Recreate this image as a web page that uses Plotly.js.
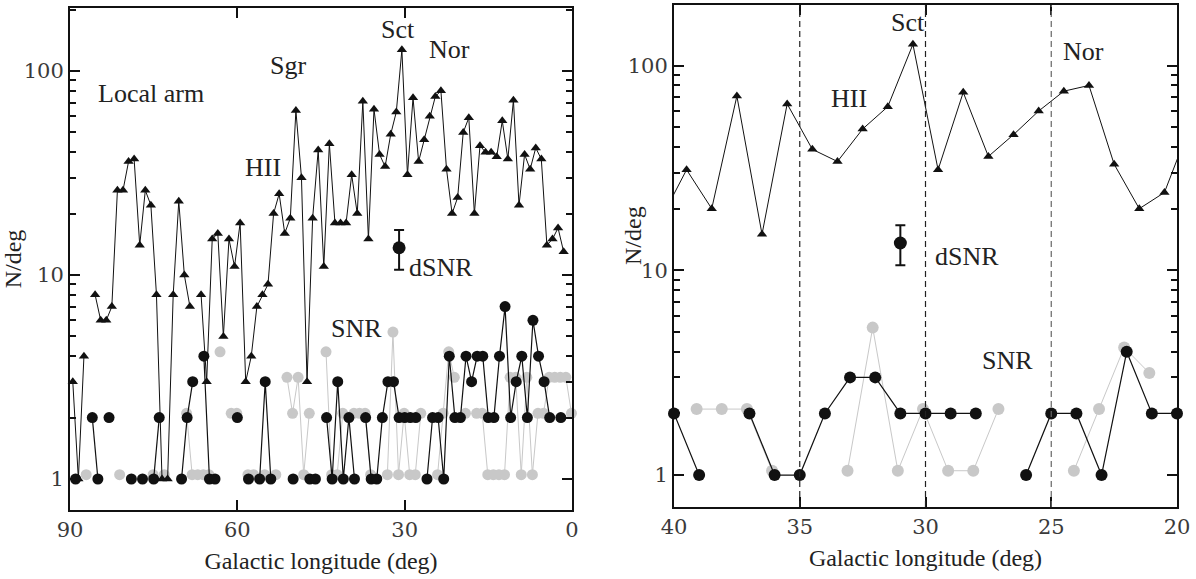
<!DOCTYPE html>
<html>
<head>
<meta charset="utf-8">
<script src="https://cdn.plot.ly/plotly-3.0.1.min.js"></script>
<style>
html, body { margin: 0; padding: 0; background: #fff; }
#chart { width: 1196px; height: 579px; }
</style>
</head>
<body>
<div id="chart"></div>
<script>
// Galactic longitude bins (deg)
const lonHII = [89.5,88.5,87.5,86.5,85.5,84.5,83.5,82.5,81.5,80.5,
  79.5,78.5,77.5,76.5,75.5,74.5,73.5,72.5,71.5,70.5,
  69.5,68.5,67.5,66.5,65.5,64.5,63.5,62.5,61.5,60.5,
  59.5,58.5,57.5,56.5,55.5,54.5,53.5,52.5,51.5,50.5,
  49.5,48.5,47.5,46.5,45.5,44.5,43.5,42.5,41.5,40.5,
  39.5,38.5,37.5,36.5,35.5,34.5,33.5,32.5,31.5,30.5,
  29.5,28.5,27.5,26.5,25.5,24.5,23.5,22.5,21.5,20.5,
  19.5,18.5,17.5,16.5,15.5,14.5,13.5,12.5,11.5,10.5,
  9.5,8.5,7.5,6.5,5.5,4.5,3.5,2.5,1.5,0.5];
// HII regions per degree (triangles)
const hiiCount = [3,1,4,null,8,6,6,7,26,26,
  36,37,14,26,22,8,1,1,8,23,
  10,7,null,8,3,15,16,5,15,11,
  18,3,4,7,8,9,20,25,16,19,
  64,30,3,19,41,11,44,18,18,18,
  31,20,71,15,65,39,34,49,63,127,
  31,74,36,46,60,75,80,33,20,24,
  50,59,20,43,40,40,38,57,37,72,
  22,39,33,42,37,14,15,17,13,null];

const lonSNR = [90,89,88,87,86,85,84,83,82,81,
  80,79,78,77,76,75,74,73,72,71,
  70,69,68,67,66,65,64,63,62,61,
  60,59,58,57,56,55,54,53,52,51,
  50,49,48,47,46,45,44,43,42,41,
  40,39,38,37,36,35,34,33,32,31,
  30,29,28,27,26,25,24,23,22,21,
  20,19,18,17,16,15,14,13,12,11,
  10,9,8,7,6,5,4,3,2,1,0];
// SNR per degree (black circles)
const snrBlack = [null,1,null,null,2,1,null,2,null,null,
  null,1,null,1,null,1,2,null,null,null,
  1,2,3,null,4,1,1,null,null,null,
  2,null,1,null,1,3,1,null,null,null,
  1,null,null,1,1,null,2,1,3,1,
  2,1,null,2,1,1,2,3,3,2,
  2,2,2,null,1,2,2,1,4,2,
  2,4,3,4,4,2,2,4,7,2,
  3,4,2,6,4,3,2,null,2,null,null];
// SNR per degree, second catalogue (grey circles)
const snrGrey = [null,null,null,1.05,null,null,null,null,null,1.05,
  null,null,null,null,null,1.05,null,1.05,null,null,
  null,2.1,1.05,1.05,1.05,1.05,null,4.2,null,2.1,
  2.1,null,1.05,1.05,null,1.05,null,1.05,null,3.15,
  2.1,3.15,1.05,2.1,null,null,4.2,1.05,1.05,2.1,
  null,2.1,2.1,2.1,1.05,null,null,1.05,5.25,1.05,
  2.1,1.05,1.05,2.1,null,null,1.05,2.1,4.2,3.15,
  null,2.1,null,2.1,2.1,1.05,1.05,1.05,1.05,3.15,
  3.15,1.05,3.15,1.05,2.1,2.1,3.15,3.15,3.15,3.15,2.1];
// representative dSNR point with error bar
const dsnrLon = [31];
const dsnrVal = [13.6];
const dsnrErr = [3];

const greyShift = 0.1; // small display shift of grey markers
const lonGrey = lonSNR.map(l => l + greyShift);

const FONT = 'Liberation Serif';
const NUMFONT = 'DejaVu Serif';

function panelTraces(xa, ya, triSize, dotSize) {
  return [
    {x: lonGrey, y: snrGrey, xaxis: xa, yaxis: ya, type: 'scatter', mode: 'lines+markers',
     line: {color: '#c8c8c8', width: 1}, marker: {color: '#c8c8c8', size: dotSize},
     cliponaxis: false, hoverinfo: 'skip'},
    {x: lonSNR, y: snrBlack, xaxis: xa, yaxis: ya, type: 'scatter', mode: 'lines+markers',
     line: {color: '#111', width: 1.2}, marker: {color: '#111', size: dotSize},
     cliponaxis: false, hoverinfo: 'skip'},
    {x: lonHII, y: hiiCount, xaxis: xa, yaxis: ya, type: 'scatter', mode: 'lines+markers',
     line: {color: '#111', width: 1}, marker: {color: '#111', size: triSize, symbol: 'triangle-up'},
     cliponaxis: false, hoverinfo: 'skip'},
    {x: dsnrLon, y: dsnrVal, xaxis: xa, yaxis: ya, type: 'scatter', mode: 'markers',
     marker: {color: '#111', size: 13},
     error_y: {type: 'data', array: dsnrErr, color: '#111', thickness: 2, width: 5},
     cliponaxis: false, hoverinfo: 'skip'}
  ];
}

const data = panelTraces('x', 'y', 9, 11).concat(panelTraces('x2', 'y2', 9, 12));

const W = 1196, H = 579;
function px(x) { return x / W; }
function py(y) { return 1 - y / H; }

const tickFont = {family: NUMFONT, size: 21, color: '#3a3a3a'};
const titleFont = {family: FONT, size: 24, color: '#222'};

function xAxis(domain, range, tickvals, anchor) {
  return {
    domain: domain, range: range, anchor: anchor,
    tickmode: 'array', tickvals: tickvals, ticktext: tickvals.map(String),
    ticks: 'inside', ticklen: 10, tickwidth: 1.5, tickcolor: '#111',
    mirror: 'allticks', showline: true, linewidth: 2, linecolor: '#111',
    showgrid: false, zeroline: false, tickfont: tickFont,
    title: {text: 'Galactic longitude (deg)', font: titleFont, standoff: 11}
  };
}
function yAxis(domain, range, anchor, titleText) {
  return {
    type: 'log', domain: domain, range: range, anchor: anchor,
    tickmode: 'array', tickvals: [1, 10, 100], ticktext: ['1', '10', '100'],
    ticks: 'inside', ticklen: 10, tickwidth: 1.5, tickcolor: '#111',
    minor: {ticks: 'inside', ticklen: 6, tickwidth: 1.5, tickcolor: '#111',
            tickvals: [2,3,4,5,6,7,8,9,20,30,40,50,60,70,80,90,200], showgrid: false},
    mirror: 'allticks', showline: true, linewidth: 2, linecolor: '#111',
    showgrid: false, zeroline: false, tickfont: tickFont,
    title: {text: titleText, font: titleFont, standoff: 2}
  };
}

const textNotes = [
  ['Local arm', 151, 93], ['Sgr', 288, 66], ['Sct', 398, 30], ['Nor', 449, 49],
  ['HII', 263, 168], ['dSNR', 441, 268], ['SNR', 356, 329],
  ['Sct', 908, 23], ['Nor', 1083, 52], ['HII', 849, 99], ['dSNR', 967, 257], ['SNR', 1007, 360]
].map(a => ({
  text: a[0], xref: 'paper', yref: 'paper', x: px(a[1]), y: py(a[2]),
  xanchor: 'center', yanchor: 'middle', showarrow: false,
  font: {family: FONT, size: 26, color: '#222'}
}));
// right-panel y title sits over its tick labels, as in the original
textNotes.push({
  text: 'N/deg', xref: 'paper', yref: 'paper', x: px(633), y: py(236),
  xanchor: 'center', yanchor: 'middle', textangle: -90, showarrow: false,
  font: titleFont
});

const layout = {
  width: W, height: H,
  margin: {l: 0, r: 0, t: 0, b: 0},
  paper_bgcolor: '#fff', plot_bgcolor: '#fff',
  showlegend: false,
  font: {family: FONT, size: 24, color: '#222'},
  xaxis: xAxis([px(70), px(572)], [90, 0], [90, 60, 30, 0], 'y'),
  yaxis: yAxis([py(510), py(8)], [-0.152, 2.309], 'x', 'N/deg'),
  xaxis2: xAxis([px(674), px(1177)], [40, 20], [40, 35, 30, 25, 20], 'y2'),
  yaxis2: yAxis([py(507), py(5)], [-0.156, 2.296], 'x2', ''),
  shapes: [35, 30, 25].map((v, i) => ({
    type: 'line', xref: 'x2', yref: 'y2 domain', x0: v, x1: v, y0: 0, y1: 1,
    line: {color: i === 2 ? '#666' : '#222', width: 1.2, dash: '6px,4px'}
  })),
  annotations: textNotes
};

Plotly.newPlot('chart', data, layout, {displayModeBar: false});
</script>
</body>
</html>
